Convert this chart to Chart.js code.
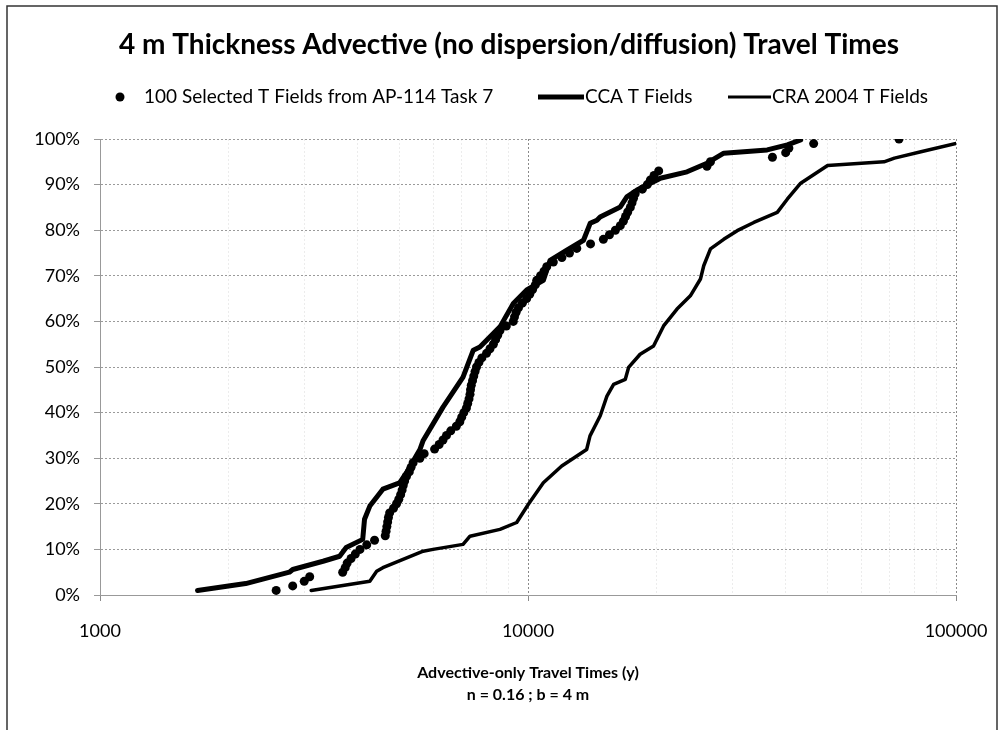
<!DOCTYPE html>
<html>
<head>
<meta charset="utf-8">
<script src="https://cdn.jsdelivr.net/npm/chart.js@4.4.1/dist/chart.umd.min.js"></script>
<style>
  html, body { margin: 0; padding: 0; background: #fff; }
  #wrap { width: 1000px; height: 730px; }
</style>
</head>
<body>
<div id="wrap"><canvas id="travelChart" width="1000" height="730"></canvas></div>
<script>
// values: travel time (y) vs cumulative percent
const selectedTimes = [2580, 2820, 3000, 3090, 3690, 3740, 3780, 3860, 3950, 4050,
  4200, 4380, 4640, 4660, 4680, 4700, 4720, 4750, 4850, 4930,
  4990, 5040, 5080, 5110, 5150, 5200, 5280, 5330, 5390, 5590,
  5720, 6050, 6200, 6330, 6450, 6600, 6800, 6930, 7000, 7080,
  7180, 7230, 7280, 7320, 7340, 7370, 7420, 7470, 7520, 7580,
  7680, 7800, 8000, 8150, 8300, 8400, 8500, 8600, 8900, 9240,
  9300, 9380, 9500, 9700, 9930, 10100, 10250, 10400, 10480, 10700,
  10900, 11060, 11460, 12000, 12500, 13000, 14000, 15000, 15500, 16000,
  16430, 16710, 16900, 17100, 17340, 17500, 17640, 17800, 18500, 19000,
  19320, 19700, 20200, 26190, 26690, 37250, 40000, 40700, 46500, 73600];
const selectedPct = [1, 2, 3, 4, 5, 6, 7, 8, 9, 10,
  11, 12, 13, 14, 15, 16, 17, 18, 19, 20,
  21, 22, 23, 24, 25, 26, 27, 28, 29, 30,
  31, 32, 33, 34, 35, 36, 37, 38, 39, 40,
  41, 42, 43, 44, 45, 46, 47, 48, 49, 50,
  51, 52, 53, 54, 55, 56, 57, 58, 59, 60,
  61, 62, 63, 64, 65, 66, 67, 68, 69, 70,
  71, 72, 73, 74, 75, 76, 77, 78, 79, 80,
  81, 82, 83, 84, 85, 86, 87, 88, 89, 90,
  91, 92, 93, 94, 95, 96, 97, 98, 99, 100];

const ccaTimes = [1690, 2190, 2770, 2820, 3320, 3630, 3760, 4110, 4150, 4270,
  4580, 5010, 5200, 5590, 5690, 6330, 7050, 7450, 7720, 8600,
  9240, 9930, 10860, 11260, 12320, 13480, 13970, 14490, 14740, 16430,
  17020, 17970, 20020, 20370, 23530, 26190, 28670, 36220, 40360, 43360];
const ccaPct = [1.0, 2.5, 5.0, 5.6, 7.4, 8.5, 10.4, 12.2, 16.6, 19.5,
  23.2, 24.6, 26.8, 31.9, 33.9, 41.2, 47.8, 53.7, 54.4, 58.8,
  63.9, 66.9, 69.0, 73.4, 75.6, 77.8, 81.5, 82.2, 82.9, 85.1,
  87.3, 88.8, 91.0, 91.4, 92.8, 94.7, 96.9, 97.6, 98.7, 99.8];

const craTimes = [3115, 4270, 4430, 4580, 5690, 6000, 7050, 7320, 8600, 9410,
  10020, 10860, 11990, 13710, 13960, 14750, 15290, 15850, 16880, 17180,
  18280, 19650, 20740, 22290, 23950, 25290, 25740, 26690, 28660, 30820,
  33700, 38230, 40340, 43360, 50120, 67900, 71800, 82800, 100000];
const craPct = [1.0, 3.0, 5.2, 6.0, 9.6, 10.0, 11.1, 12.9, 14.4, 15.9,
  19.9, 24.6, 28.3, 31.9, 34.9, 39.3, 43.6, 46.2, 47.3, 49.9,
  52.8, 54.6, 59.0, 62.7, 65.6, 69.3, 72.2, 75.9, 78.0, 79.9,
  81.7, 83.9, 86.8, 90.3, 94.2, 95.0, 95.8, 97.2, 99.0];

const xTicks = [1000, 2000, 3000, 4000, 5000, 6000, 7000, 8000, 9000,
  10000, 20000, 30000, 40000, 50000, 60000, 70000, 80000, 90000, 100000];
const xLabelled = [1000, 10000, 100000];

const chartTitle = '4 m Thickness Advective (no dispersion/diffusion) Travel Times';

const toPoints = (xs, ys) => xs.map((x, i) => ({ x: x, y: ys[i] }));
const FONT = 'Lato, "Open Sans", sans-serif';

// white page + thin frame like the scanned figure
const framePlugin = {
  id: 'frame',
  beforeDraw(chart) {
    const c = chart.ctx;
    c.save();
    c.fillStyle = '#fff';
    c.fillRect(0, 0, chart.width, chart.height);
    c.strokeStyle = '#333';
    c.lineWidth = 1.5;
    c.beginPath();
    c.moveTo(7, 730);
    c.lineTo(7, 6);
    c.lineTo(997, 6);
    c.lineTo(997, 730);
    c.stroke();
    c.restore();
  }
};

// title + legend row (the original centres them on the whole figure)
const headerPlugin = {
  id: 'header',
  afterDraw(chart) {
    const c = chart.ctx;
    const ds = chart.data.datasets;
    const y = 97;
    c.save();
    c.fillStyle = '#000';
    c.strokeStyle = '#000';
    c.textBaseline = 'middle';

    c.font = 'bold 28px ' + FONT;
    c.textAlign = 'center';
    c.fillText(chartTitle, 509, 45);

    c.font = '19px ' + FONT;
    c.textAlign = 'left';
    c.beginPath();
    c.arc(120, y, 4.5, 0, Math.PI * 2);
    c.fill();
    c.fillText(ds[0].label, 144, y);

    c.lineWidth = 5;
    c.beginPath();
    c.moveTo(538, y);
    c.lineTo(584, y);
    c.stroke();
    c.fillText(ds[1].label, 585, y);

    c.lineWidth = 3;
    c.beginPath();
    c.moveTo(728, y);
    c.lineTo(771, y);
    c.stroke();
    c.fillText(ds[2].label, 772, y);
    c.restore();
  }
};

const travelChart = new Chart(document.getElementById('travelChart'), {
  type: 'scatter',
  data: {
    datasets: [{
      label: '100 Selected T Fields from AP-114 Task 7',
      data: toPoints(selectedTimes, selectedPct),
      showLine: false,
      pointRadius: 4.5,
      pointBackgroundColor: '#000',
      pointBorderWidth: 0
    }, {
      label: 'CCA T Fields',
      data: toPoints(ccaTimes, ccaPct),
      showLine: true,
      borderColor: '#000',
      borderWidth: 5,
      pointRadius: 0,
      borderJoinStyle: 'round',
      borderCapStyle: 'round'
    }, {
      label: 'CRA 2004 T Fields',
      data: toPoints(craTimes, craPct),
      showLine: true,
      borderColor: '#000',
      borderWidth: 3.5,
      pointRadius: 0,
      borderJoinStyle: 'round',
      borderCapStyle: 'round'
    }]
  },
  options: {
    responsive: false,
    devicePixelRatio: 1,
    animation: false,
    layout: { padding: { left: 0, right: 44, top: 139, bottom: 0 } },
    plugins: {
      legend: { display: false },
      tooltip: { enabled: false },
      title: { display: false }
    },
    scales: {
      x: {
        type: 'logarithmic',
        min: 1000,
        max: 100000,
        afterBuildTicks: s => { s.ticks = xTicks.map(v => ({ value: v })); },
        afterFit: s => {
          s.height = 135;
          s.paddingLeft = 10;
          s.paddingRight = 10;
        },
        ticks: {
          autoSkip: false,
          maxRotation: 0,
          color: '#000',
          padding: 19,
          font: { family: FONT, size: 18 },
          callback: v => xLabelled.includes(v) ? String(v) : ''
        },
        grid: {
          color: c => xLabelled.includes(c.tick && c.tick.value) ? '#8a8a8a' : '#ececec',
          tickColor: c => xLabelled.includes(c.tick && c.tick.value) ? '#8a8a8a' : 'rgba(0,0,0,0)',
          tickLength: 6,
          lineWidth: 1
        },
        border: { display: true, color: '#999', width: 1, dash: [2, 2] },
        title: {
          display: true,
          text: ['Advective-only Travel Times (y)', 'n = 0.16 ; b = 4 m'],
          color: '#000',
          font: { family: FONT, size: 16, weight: 'bold', lineHeight: 1.375 },
          padding: { top: 0, bottom: 24 }
        }
      },
      y: {
        min: 0,
        max: 100,
        afterFit: s => { s.width = 100; },
        ticks: {
          stepSize: 10,
          color: '#000',
          padding: 14,
          font: { family: FONT, size: 18 },
          callback: v => v + '%'
        },
        grid: {
          color: '#9a9a9a',
          tickColor: '#999',
          tickLength: 6,
          lineWidth: 1
        },
        border: { display: true, color: '#999', width: 1, dash: [2, 2] }
      }
    }
  },
  plugins: [framePlugin, headerPlugin]
});
</script>
</body>
</html>
